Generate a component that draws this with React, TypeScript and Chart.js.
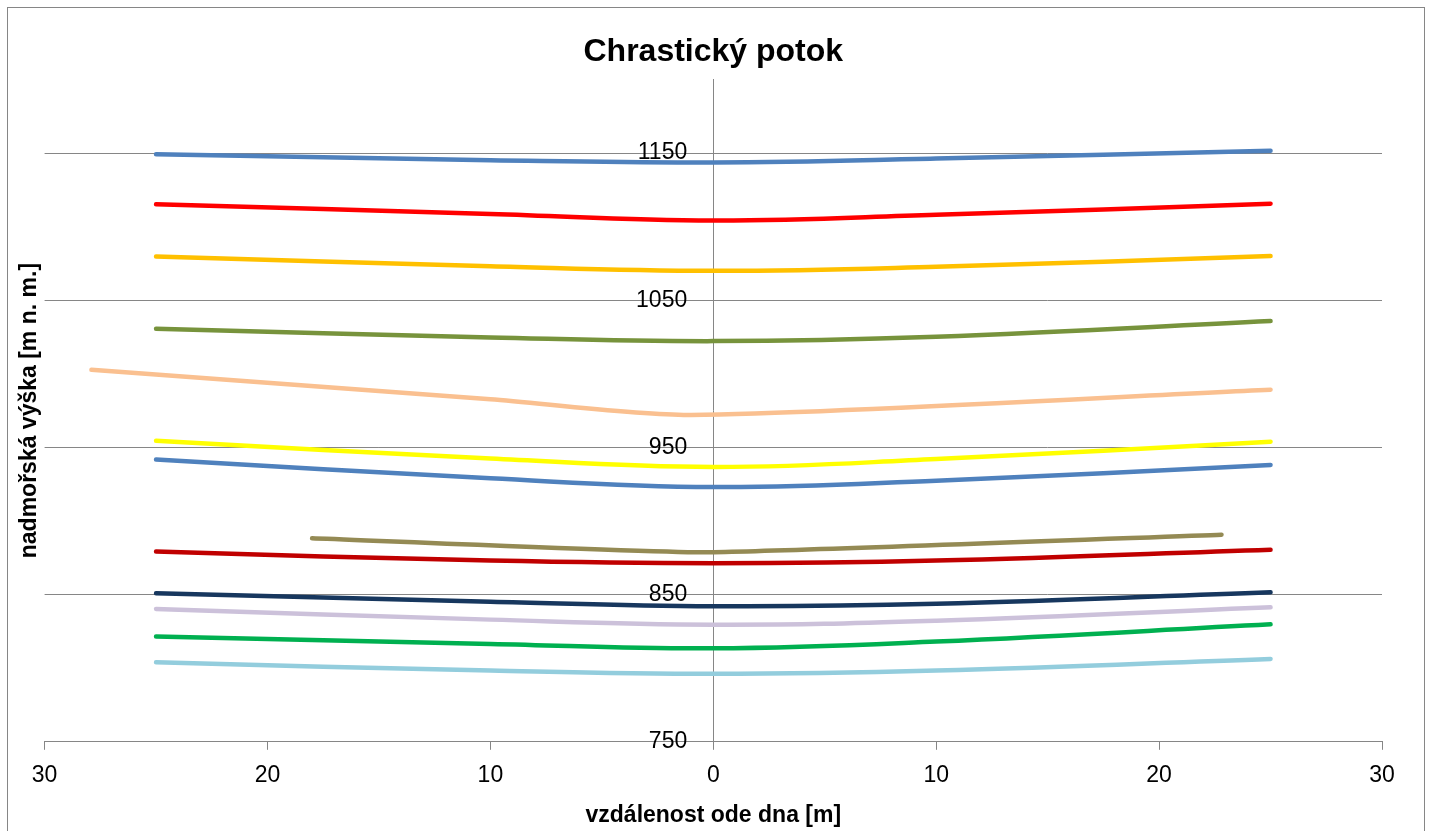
import React, { useEffect, useRef } from 'react';
import { Chart, registerables } from 'chart.js';

Chart.register(...registerables);

const TITLE = 'Chrastický potok';
const X_TITLE = 'vzdálenost ode dna [m]';
const Y_TITLE = 'nadmořská výška [m n. m.]';
const X_TICKS = [-30, -20, -10, 0, 10, 20, 30];
const Y_TICKS = [750, 850, 950, 1050, 1150];

// common cross-section positions (m from the stream bed)
const X_MAIN = [-25, -10, 0, 10, 25];

const BLUE_TOP = [1149.2, 1145.1, 1143.6, 1146.2, 1151.5];
const RED = [1115.2, 1108.6, 1104.1, 1108.0, 1115.6];
const ORANGE = [1079.7, 1073.1, 1070.0, 1072.7, 1080.0];
const OLIVE = [1030.6, 1024.7, 1022.2, 1025.2, 1035.8];

const X_PEACH = [-27.9, -10, -1, 25];
const PEACH = [1002.7, 982.7, 972.0, 989.2];

const YELLOW = [954.5, 942.5, 936.7, 942.1, 953.9];
const BLUE_MID = [941.7, 929.0, 923.1, 927.4, 938.1];

const X_KHAKI = [-18, -0.5, 22.8];
const KHAKI = [888.2, 878.7, 890.7];

const DARK_RED = [879.2, 873.1, 871.3, 873.1, 880.5];
const NAVY = [850.9, 845.2, 842.1, 843.7, 851.6];
const LAVENDER = [840.3, 833.0, 829.6, 832.3, 841.4];
const GREEN = [821.5, 816.5, 813.5, 818.1, 829.8];
const LIGHT_BLUE = [804.0, 798.4, 796.2, 798.4, 806.3];

const SERIES: { xs: number[]; ys: number[]; color: string; tension: number }[] = [
  { xs: X_MAIN, ys: BLUE_TOP, color: '#4F81BD', tension: 0.4 },
  { xs: X_MAIN, ys: RED, color: '#FF0000', tension: 0.4 },
  { xs: X_MAIN, ys: ORANGE, color: '#FFC000', tension: 0.4 },
  { xs: X_MAIN, ys: OLIVE, color: '#77933C', tension: 0.4 },
  { xs: X_PEACH, ys: PEACH, color: '#FAC090', tension: 0.25 },
  { xs: X_MAIN, ys: YELLOW, color: '#FFFF00', tension: 0.4 },
  { xs: X_MAIN, ys: BLUE_MID, color: '#4F81BD', tension: 0.4 },
  { xs: X_KHAKI, ys: KHAKI, color: '#948A54', tension: 0.12 },
  { xs: X_MAIN, ys: DARK_RED, color: '#C00000', tension: 0.4 },
  { xs: X_MAIN, ys: NAVY, color: '#17375E', tension: 0.4 },
  { xs: X_MAIN, ys: LAVENDER, color: '#CCC1DA', tension: 0.4 },
  { xs: X_MAIN, ys: GREEN, color: '#00B050', tension: 0.4 },
  { xs: X_MAIN, ys: LIGHT_BLUE, color: '#93CDDD', tension: 0.4 },
];

const FONT = '"Liberation Sans", Arial, sans-serif';
const AXIS_GRAY = '#868686';

export default function App() {
  const ref = useRef<HTMLCanvasElement | null>(null);

  useEffect(() => {
    if (!ref.current) return;
    const setTicks = (vals: number[]) => (s: any) => {
      s.ticks = vals.map((v) => ({ value: v }));
    };
    const chart = new Chart(ref.current, {
      type: 'scatter',
      data: {
        datasets: SERIES.map((s, i) => ({
          label: 'Řada ' + (i + 1),
          data: s.xs.map((x, j) => ({ x, y: s.ys[j] })),
          showLine: true,
          borderColor: s.color,
          backgroundColor: s.color,
          borderWidth: 4.5,
          borderCapStyle: 'round',
          borderJoinStyle: 'round',
          pointRadius: 0,
          pointHoverRadius: 0,
          tension: s.tension,
        })),
      },
      options: {
        animation: false,
        responsive: false,
        maintainAspectRatio: false,
        layout: { padding: { left: 8, right: 42, top: 0, bottom: 19 } },
        plugins: {
          legend: { display: false },
          tooltip: { enabled: false },
          title: {
            display: true,
            text: TITLE,
            fullSize: false,
            color: '#000',
            font: { family: FONT, size: 32, weight: 'bold' },
            padding: { top: 25, bottom: 8 },
          },
        },
        scales: {
          x: {
            type: 'linear',
            min: -30,
            max: 30,
            afterBuildTicks: setTicks(X_TICKS),
            ticks: {
              callback: (v: any) => String(Math.abs(Number(v))),
              color: '#000',
              font: { family: FONT, size: 23 },
              padding: 12,
              maxRotation: 0,
              autoSkip: false,
            },
            grid: { drawOnChartArea: false, tickLength: 8, color: AXIS_GRAY },
            border: { color: AXIS_GRAY, width: 1 },
            title: {
              display: true,
              text: X_TITLE,
              color: '#000',
              font: { family: FONT, size: 23, weight: 'bold' },
              padding: { top: 0, bottom: 0 },
            },
          },
          y: {
            type: 'linear',
            min: 750,
            max: 1200,
            position: { x: 0 },
            afterBuildTicks: setTicks(Y_TICKS),
            ticks: { display: false },
            grid: { color: AXIS_GRAY, drawTicks: false },
            border: { color: AXIS_GRAY, width: 1 },
          },
          yLabels: {
            type: 'linear',
            min: 750,
            max: 1200,
            position: { x: -1.17 },
            afterBuildTicks: setTicks(Y_TICKS),
            ticks: {
              callback: (v: any) => String(v),
              color: '#000',
              font: { family: FONT, size: 23 },
            },
            grid: { display: false, drawTicks: false },
            border: { display: false },
          },
          yTitle: {
            type: 'linear',
            position: 'left',
            min: 750,
            max: 1200,
            ticks: { display: false },
            grid: { display: false, drawTicks: false },
            border: { display: false },
            title: {
              display: true,
              text: Y_TITLE,
              color: '#000',
              font: { family: FONT, size: 23, weight: 'bold' },
              padding: { top: 0, bottom: 1 },
            },
          },
        },
      } as any,
    });
    return () => chart.destroy();
  }, []);

  return (
    <div
      style={{
        position: 'fixed',
        left: 7,
        top: 7,
        width: 1418,
        height: 842,
        boxSizing: 'border-box',
        border: '1px solid ' + AXIS_GRAY,
        background: '#fff',
      }}
    >
      <canvas ref={ref} width={1416} height={840} style={{ display: 'block' }} />
    </div>
  );
}
